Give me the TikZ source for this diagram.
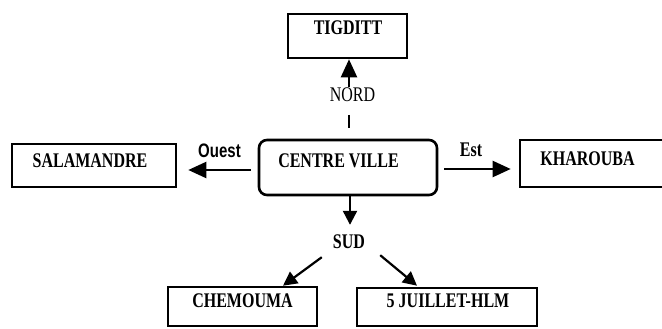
\documentclass[tikz,border=0pt]{standalone}
\usepackage{fontspec}
\setmainfont{Liberation Serif}
\newfontfamily\ouestfont{Liberation Sans}
\usetikzlibrary{arrows.meta}
\newcommand\tallbox[1]{\scalebox{1}[1.3]{#1}}
\tikzset{
  locbox/.style={draw=black, line width=2.6pt, fill=white, inner sep=0pt},
  loctext/.style={font=\bfseries\fontsize{16}{16}\selectfont, inner sep=0pt},
  dirtext/.style={font=\fontsize{16}{16}\selectfont, inner sep=0pt},
  arr/.style={line width=2.2pt, -{Triangle[length=18pt,width=16pt]}},
  arrs/.style={line width=2.2pt, -{Triangle[length=14pt,width=14pt]}},
  plain/.style={line width=2.2pt}
}
\begin{document}
\begin{tikzpicture}[x=1pt,y=-1pt]
\useasboundingbox (0,0) rectangle (662,329);
\clip (0,0) rectangle (662,329);
% boxes
\node[locbox, minimum width=119pt, minimum height=44pt] (tig) at (347.5,36) {};
\node[locbox, rounded corners=8pt, minimum width=178pt, minimum height=55pt] (cv) at (348,167.5) {};
\node[locbox, minimum width=164pt, minimum height=43pt] (sal) at (94,165.5) {};
\node[locbox, minimum width=146pt, minimum height=47pt] (kh) at (593,163.5) {};
\node[locbox, minimum width=149pt, minimum height=39pt] (chem) at (242.5,306.5) {};
\node[locbox, minimum width=180pt, minimum height=38pt] (juil) at (447,307) {};
% box texts
\node[loctext] (tigt) at (348,27.5) {\tallbox{TIGDITT}};
\node[loctext] (cvt) at (338.5,160.5) {\tallbox{CENTRE VILLE}};
\node[loctext] (salt) at (90,161) {\tallbox{SALAMANDRE}};
\node[loctext] (kht) at (587.5,158.5) {\tallbox{KHAROUBA}};
\node[loctext] (chemt) at (242.5,301) {\tallbox{CHEMOUMA}};
\node[loctext] (juilt) at (448,301) {\tallbox{5 JUILLET-HLM}};
% direction labels
\node[dirtext] (nord) at (352.5,95) {\tallbox{NORD}};
\node[loctext] (sud) at (349,242) {\tallbox{SUD}};
\node[font=\ouestfont\bfseries\fontsize{15}{15}\selectfont, inner sep=0pt] (ouest) at (219.5,151) {\tallbox{Ouest}};
\node[loctext] (est) at (471,150) {\tallbox{Est}};
% dash below NORD
\coordinate (d1) at (349,115);
\coordinate (d2) at (349,128);
\draw[plain] (d1) -- (d2);
% connectors
\draw[arr] (tig.south |- nord.north) ++(1.5pt,1pt) -- ([xshift=1.5pt]tig.south);
\draw[arr] ([xshift=-7pt,yshift=-2.5pt]cv.west) -- ([xshift=11pt,yshift=-4.5pt]sal.east);
\draw[arr] ([xshift=6pt,yshift=-1.5pt]cv.east) -- ([xshift=-8pt,yshift=-5.5pt]kh.west);
\draw[arrs] ([xshift=2pt]cv.south) -- ([xshift=1pt,yshift=10pt]sud.north);
\draw[arrs] ([xshift=-11pt,yshift=-8pt]sud.south west) -- ([xshift=40.5pt]chem.north);
\draw[arrs] ([xshift=15pt,yshift=-6pt]sud.south east) -- ([xshift=-30pt,yshift=1pt]juil.north);
\end{tikzpicture}
\end{document}
